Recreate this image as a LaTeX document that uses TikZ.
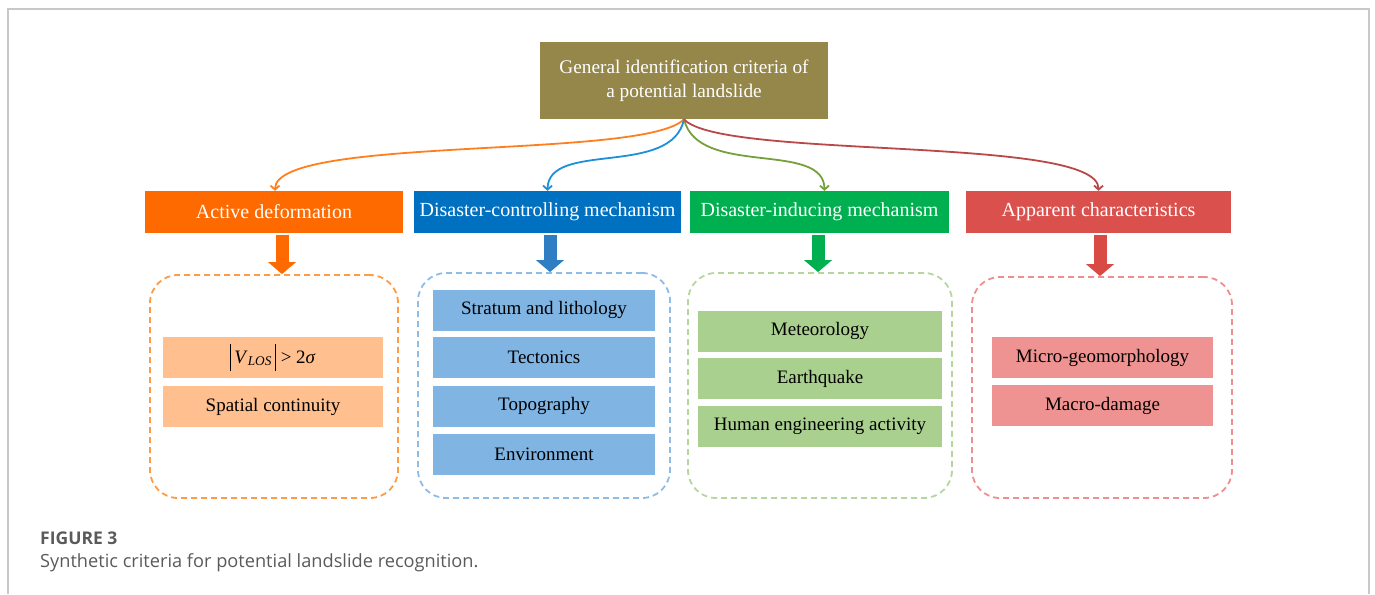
\documentclass[tikz,border=0pt]{standalone}
\usepackage{fontspec}
\setmainfont{Liberation Serif}
\newfontfamily\capfont{Open Sans}
\usetikzlibrary{arrows.meta}

% palette
\definecolor{olive}{HTML}{958649}
\definecolor{hdOrange}{HTML}{FF6A00}
\definecolor{hdBlue}{HTML}{0070C0}
\definecolor{hdGreen}{HTML}{00B050}
\definecolor{hdRed}{HTML}{D9504C}
\definecolor{arBlue}{HTML}{2F7DC2}
\definecolor{arRed}{HTML}{D94A45}
\definecolor{inOrange}{HTML}{FFBF8F}
\definecolor{inBlue}{HTML}{7FB4E3}
\definecolor{inGreen}{HTML}{A9D08E}
\definecolor{inRed}{HTML}{EE9391}
\definecolor{dsOrange}{HTML}{FF9A45}
\definecolor{dsBlue}{HTML}{8DBCE6}
\definecolor{dsGreen}{HTML}{B5D69C}
\definecolor{dsRed}{HTML}{EF8E8E}
\definecolor{cvOrange}{HTML}{FF7F1F}
\definecolor{cvBlue}{HTML}{1E8FD8}
\definecolor{cvGreen}{HTML}{76A03C}
\definecolor{cvRed}{HTML}{B94848}
\definecolor{capgray}{HTML}{5A5A5A}
\definecolor{framegray}{HTML}{C8C8C8}

% tall absolute-value bar
\newcommand{\absbar}{\rule[-8pt]{0.9pt}{27pt}}

\begin{document}
\begin{tikzpicture}[x=1pt,y=-1pt,
  rootbox/.style={rectangle, fill=olive, text=white, align=center,
    minimum width=288pt, minimum height=77pt, inner sep=0pt,
    font=\fontsize{19.3}{24}\selectfont},
  header/.style={rectangle, text=white, minimum height=42pt, inner sep=0pt,
    font=\fontsize{20}{22}\selectfont},
  group/.style={rectangle, rounded corners=28pt, draw, line width=1.8pt,
    dash pattern=on 6pt off 4pt, inner sep=0pt},
  item/.style={rectangle, minimum height=41pt, inner sep=0pt,
    font=\fontsize{19}{22}\selectfont},
  link/.style={line width=1.8pt, -{Straight Barb[length=4pt,width=9pt]}},
  block/.style={line width=13pt, -{Triangle[width=28pt,length=12pt,line width=0pt]}},
]
\useasboundingbox (0,0) rectangle (1375,594);

% outer frame, open at the bottom
\draw[framegray, line width=1.3pt] (8,594) -- (8,9) -- (1369,9) -- (1369,594);

% root
\node[rootbox] (root) at (684,80.5) {General identification criteria of\\a potential landslide};

% headers
\node[header, fill=hdOrange, minimum width=258pt] (ad) at (274,212) {Active deformation};
\node[header, fill=hdBlue, minimum width=267pt] (dc) at (547.5,212) {Disaster-controlling mechanism};
\node[header, fill=hdGreen, minimum width=259pt] (di) at (819.5,212) {Disaster-inducing mechanism};
\node[header, fill=hdRed, minimum width=265pt] (ac) at (1098.5,212) {Apparent characteristics};

% curved links from the root
\draw[link, cvOrange] (root.south) .. controls (645,160) and (275,135) .. ([xshift=1pt]ad.north);
\draw[link, cvBlue] (root.south) .. controls (672,178) and (548,140) .. (dc.north);
\draw[link, cvGreen] (root.south) .. controls (698,178) and (824,140) .. ([xshift=5pt]di.north);
\draw[link, cvRed] (root.south) .. controls (720,160) and (1099,135) .. (ac.north);

% dashed groups
\node[group, draw=dsOrange, minimum width=248pt, minimum height=223pt] (adg) at (274,386.5) {};
\node[group, draw=dsBlue, minimum width=252pt, minimum height=225pt] (dcg) at (544,385.5) {};
\node[group, draw=dsGreen, minimum width=264pt, minimum height=225pt] (dig) at (820,385.5) {};
\node[group, draw=dsRed, minimum width=260pt, minimum height=221pt] (acg) at (1102,387.5) {};

% block arrows
\draw[block, hdOrange] ([xshift=8pt,yshift=-2pt]ad.south) -- ([xshift=8pt]adg.north);
\draw[block, arBlue] ([xshift=2.5pt,yshift=-2pt]dc.south) -- ([xshift=6pt]dcg.north);
\draw[block, hdGreen] ([xshift=-1.5pt,yshift=-2pt]di.south) -- ([xshift=-2pt]dig.north);
\draw[block, arRed] ([xshift=1.5pt,yshift=-2pt]ac.south) -- ([xshift=-2pt]acg.north);

% items: active deformation
\node[item, fill=inOrange, minimum width=220pt] (a1) at (273,357.5)
  {\absbar\,\textit{V}\textsubscript{\textit{LOS}}\,\absbar\ > 2\textit{σ}};
\node[item, fill=inOrange, minimum width=220pt] (a2) at (273,406.5) {Spatial continuity};

% items: disaster-controlling mechanism
\node[item, fill=inBlue, minimum width=222pt] (b1) at (544,310) {Stratum and lithology};
\node[item, fill=inBlue, minimum width=222pt] (b2) at (544,357.5) {Tectonics};
\node[item, fill=inBlue, minimum width=222pt] (b3) at (544,406) {Topography};
\node[item, fill=inBlue, minimum width=222pt] (b4) at (544,454) {Environment};

% items: disaster-inducing mechanism
\node[item, fill=inGreen, minimum width=244pt] (c1) at (820,331) {Meteorology};
\node[item, fill=inGreen, minimum width=244pt] (c2) at (820,378.5) {Earthquake};
\node[item, fill=inGreen, minimum width=244pt] (c3) at (820,426.5) {Human engineering activity};

% items: apparent characteristics
\node[item, fill=inRed, minimum width=221pt] (d1) at (1102.5,357.5) {Micro-geomorphology};
\node[item, fill=inRed, minimum width=221pt] (d2) at (1102.5,405.5) {Macro-damage};

% caption
\node[anchor=base west, inner sep=0pt, text=capgray, font=\capfont\bfseries\fontsize{17.5}{20}\selectfont] (figlabel) at (40,544) {FIGURE 3};
\node[anchor=base west, inner sep=0pt, text=capgray, font=\capfont\fontsize{18.2}{20}\selectfont] (figcaption) at (40,567) {Synthetic criteria for potential landslide recognition.};
\end{tikzpicture}
\end{document}
